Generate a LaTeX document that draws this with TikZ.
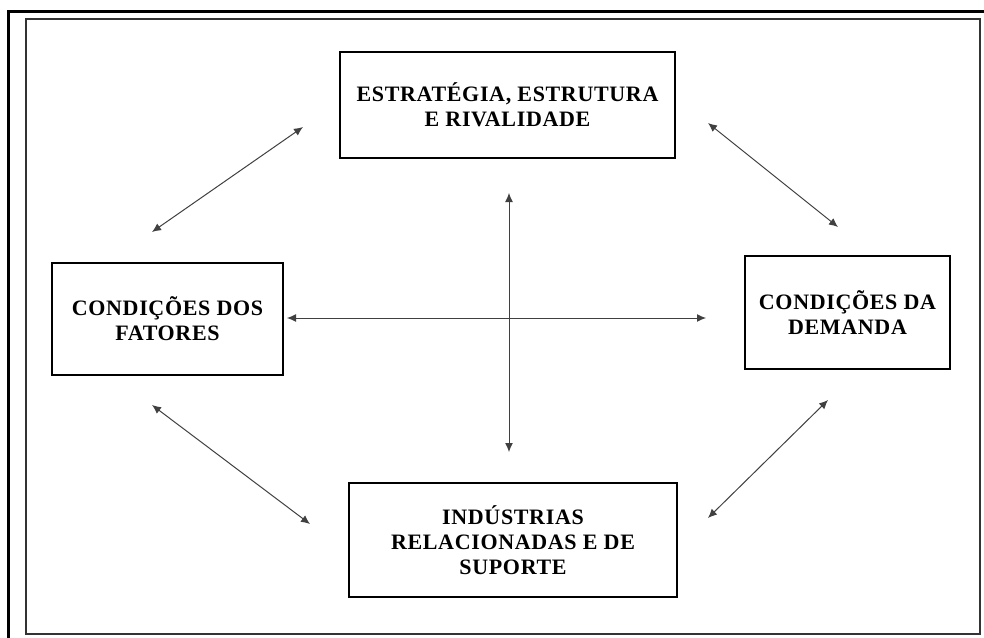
\documentclass[tikz,border=0pt]{standalone}
\usepackage{fontspec}
\setmainfont{Liberation Serif}
\newfontfamily\scanfont[LetterSpace=3]{Liberation Serif}
\usetikzlibrary{arrows.meta}

\begin{document}
\begin{tikzpicture}[x=1pt, y=-1pt,
  every node/.style = {font=\scanfont\bfseries\fontsize{22}{25}\selectfont, align=center},
  box/.style = {shape=rectangle, draw, line width=2pt, inner sep=0pt},
  link/.style = {{Latex[length=9pt,width=8pt]}-{Latex[length=9pt,width=8pt]},
    line width=1pt, draw=black!75}]
  \useasboundingbox (0,0) rectangle (984,637);
  % frames
  \draw[line width=3pt] (8,640) -- (8,11) -- (990,11);
  \draw[line width=1.5pt, draw=black!80] (26,19) rectangle (980,634);

  \node[box, minimum width=335pt, minimum height=106pt] (estr) at (507.5,105)
    {ESTRATÉGIA, ESTRUTURA\\E RIVALIDADE};
  \node[box, minimum width=231pt, minimum height=112pt] (fat) at (167.5,319)
    {CONDIÇÕES DOS\\FATORES};
  \node[box, minimum width=205pt, minimum height=113pt] (dem) at (847.5,312.5)
    {CONDIÇÕES DA\\DEMANDA};
  \node[box, minimum width=328pt, minimum height=114pt] (ind) at (513,540)
    {INDÚSTRIAS\\RELACIONADAS E DE\\SUPORTE};

  % ends of the arrows
  \coordinate (tl-a) at (303,127);
  \coordinate (tl-b) at (152,232);
  \coordinate (tr-a) at (708,123);
  \coordinate (tr-b) at (838,227);
  \coordinate (bl-a) at (152,405);
  \coordinate (bl-b) at (310,524);
  \coordinate (br-a) at (828,400);
  \coordinate (br-b) at (708,518);
  \coordinate (v-a) at (509,193);
  \coordinate (v-b) at (509,452);
  \coordinate (h-a) at (287,318);
  \coordinate (h-b) at (706,318);

  \draw[link] (tl-a) -- (tl-b);
  \draw[link] (tr-a) -- (tr-b);
  \draw[link] (bl-a) -- (bl-b);
  \draw[link] (br-a) -- (br-b);
  \draw[link] (v-a) -- (v-b);
  \draw[link] (h-a) -- (h-b);
\end{tikzpicture}
\end{document}
